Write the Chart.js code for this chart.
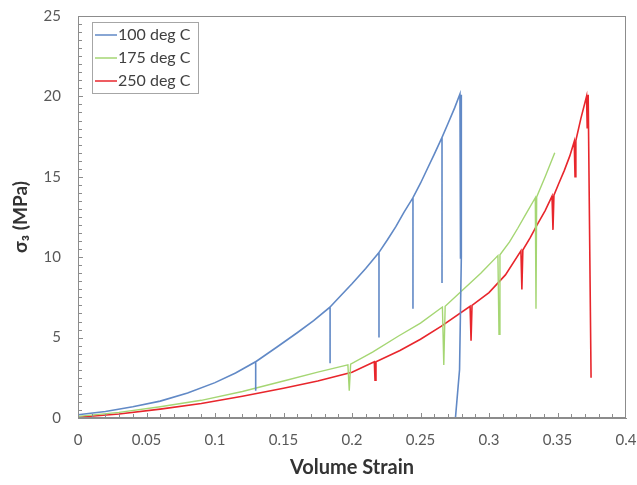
<!DOCTYPE html>
<html>
<head>
<meta charset="utf-8">
<script src="https://cdn.jsdelivr.net/npm/chart.js@4/dist/chart.umd.min.js"></script>
<style>
    body { margin: 0; background: #ffffff; }
    canvas { display: block; }
</style>
</head>
<body>
<canvas id="strainChart" width="637" height="485"></canvas>
<script>
// dados
const seriesLabels = ["100 deg C", "175 deg C", "250 deg C"];

const strain100 = [0, 0.02, 0.04, 0.06, 0.08, 0.1, 0.115, 0.1297, 0.1297, 0.1297,
    0.145, 0.16, 0.172, 0.184, 0.184, 0.184, 0.19, 0.2, 0.21, 0.2197, 0.2197, 0.2197,
    0.226, 0.232, 0.238, 0.2445, 0.2445, 0.2445, 0.25, 0.255, 0.26, 0.2657, 0.2657, 0.2657,
    0.27, 0.275, 0.2788, 0.2792, 0.2796, 0.2798, 0.2785, 0.2755];
const stress100 = [0.2, 0.4, 0.7, 1.05, 1.55, 2.2, 2.8, 3.5, 1.7, 3.5,
    4.4, 5.3, 6.05, 6.9, 3.4, 6.9, 7.45, 8.35, 9.3, 10.3, 5.0, 10.3,
    11.1, 11.9, 12.8, 13.7, 6.8, 13.7, 14.6, 15.5, 16.4, 17.45, 8.4, 17.45,
    18.3, 19.3, 20.15, 9.9, 20.1, 10.0, 3.0, 0];

const strain175 = [0, 0.03, 0.06, 0.09, 0.12, 0.15, 0.175, 0.197, 0.198, 0.199,
    0.215, 0.234, 0.25, 0.266, 0.267, 0.268, 0.28, 0.294, 0.3065, 0.3073, 0.308,
    0.315, 0.321, 0.327, 0.3338, 0.3343, 0.3348, 0.341, 0.348];
const stress175 = [0.1, 0.35, 0.7, 1.1, 1.65, 2.3, 2.85, 3.3, 1.7, 3.35,
    4.1, 5.1, 5.9, 6.9, 3.3, 6.95, 7.9, 9.0, 10.1, 5.2, 10.15,
    10.95, 11.8, 12.7, 13.7, 6.8, 13.75, 15.0, 16.5];

const strain250 = [0, 0.03, 0.06, 0.09, 0.12, 0.15, 0.175, 0.2, 0.2163, 0.2168, 0.2175,
    0.235, 0.25, 0.265, 0.2862, 0.2869, 0.2876, 0.3, 0.312, 0.3233, 0.324, 0.3247,
    0.33, 0.335, 0.341, 0.346, 0.3467, 0.3474, 0.351, 0.355, 0.359, 0.3622, 0.3628, 0.3634,
    0.367, 0.3712, 0.3717, 0.3724, 0.3745];
const stress250 = [0.05, 0.25, 0.55, 0.9, 1.35, 1.85, 2.3, 2.85, 3.5, 2.35, 3.5,
    4.2, 4.9, 5.7, 6.95, 4.8, 7.0, 7.8, 8.9, 10.4, 8.0, 10.45,
    11.2, 12.0, 12.9, 13.8, 11.7, 13.85, 14.6, 15.4, 16.3, 17.2, 15.0, 17.25,
    18.6, 20.0, 18.0, 20.1, 2.5];

const xTickValues = [0, 0.05, 0.1, 0.15, 0.2, 0.25, 0.3, 0.35, 0.4];
const yTickValues = [0, 5, 10, 15, 20, 25];

const seriesColors = ["#6189c6", "#a5d673", "#e8262c"];

function toPoints(xs, ys) {
    return xs.map((x, i) => ({ x: x, y: ys[i] }));
}

const fontFamily = "Lato, 'Noto Sans', 'DejaVu Sans', sans-serif";

// moldura, marcas internas e legenda
const framePlugin = {
    id: "frame",
    afterDraw(chart) {
        const ctx = chart.ctx;
        const area = chart.chartArea;
        const xs = chart.scales.x;
        const ys = chart.scales.y;
        ctx.save();
        ctx.strokeStyle = "#8c8c8c";
        ctx.lineWidth = 1;
        ctx.strokeRect(area.left + 0.5, area.top + 0.5, area.right - area.left - 1, area.bottom - area.top - 1);

        ctx.beginPath();
        for (let i = 1; i < 40; i++) {
            const px = Math.round(xs.getPixelForValue(i / 100)) + 0.5;
            ctx.moveTo(px, area.bottom);
            ctx.lineTo(px, area.bottom - (i % 5 === 0 ? 5 : 4));
        }
        for (let i = 1; i < 50; i++) {
            const py = Math.round(ys.getPixelForValue(i / 2)) + 0.5;
            ctx.moveTo(area.left, py);
            ctx.lineTo(area.left + (i % 10 === 0 ? 5 : 4), py);
        }
        ctx.stroke();

        // legenda
        const box = { x: 92, y: 22, w: 106, h: 71, row: 23 };
        ctx.fillStyle = "#ffffff";
        ctx.fillRect(box.x, box.y, box.w, box.h);
        ctx.strokeStyle = "#a6a6a6";
        ctx.strokeRect(box.x + 0.5, box.y + 0.5, box.w, box.h);
        ctx.font = "16px " + fontFamily;
        ctx.textBaseline = "middle";
        chart.data.datasets.forEach((ds, i) => {
            const cy = box.y + 13 + i * box.row;
            ctx.strokeStyle = ds.borderColor;
            ctx.lineWidth = 1.5;
            ctx.beginPath();
            ctx.moveTo(box.x + 3, cy);
            ctx.lineTo(box.x + 25, cy);
            ctx.stroke();
            ctx.fillStyle = "#404040";
            ctx.fillText(ds.label, box.x + 26, cy);
        });
        ctx.restore();
    }
};

const ctx = document.getElementById("strainChart").getContext("2d");
new Chart(ctx, {
    type: "line",
    data: {
        datasets: [
            { label: seriesLabels[0], data: toPoints(strain100, stress100), borderColor: seriesColors[0], borderWidth: 1.6 },
            { label: seriesLabels[1], data: toPoints(strain175, stress175), borderColor: seriesColors[1], borderWidth: 1.4 },
            { label: seriesLabels[2], data: toPoints(strain250, stress250), borderColor: seriesColors[2], borderWidth: 1.6 }
        ]
    },
    options: {
        responsive: false,
        animation: false,
        parsing: false,
        layout: { padding: { left: 0, right: 11, top: 16, bottom: 0 } },
        elements: {
            point: { radius: 0 },
            line: { tension: 0, fill: false }
        },
        plugins: {
            legend: { display: false },
            tooltip: { enabled: false }
        },
        scales: {
            x: {
                type: "linear",
                min: 0,
                max: 0.4,
                afterBuildTicks: (scale) => { scale.ticks = xTickValues.map(v => ({ value: v })); },
                afterFit: (scale) => {
                    scale.height = 67;
                    scale.paddingLeft = 0;
                    scale.paddingRight = 0;
                },
                grid: { display: false, drawTicks: false },
                border: { display: true, color: "#8c8c8c" },
                ticks: {
                    padding: 13,
                    color: "#595959",
                    font: { family: fontFamily, size: 15 },
                    maxRotation: 0,
                    callback: (v) => String(Number(v.toFixed(2)))
                },
                title: {
                    display: true,
                    text: "Volume Strain",
                    color: "#333333",
                    font: { family: fontFamily, size: 20, weight: "bold" },
                    padding: { top: 0, bottom: 5 }
                }
            },
            y: {
                type: "linear",
                min: 0,
                max: 25,
                afterBuildTicks: (scale) => { scale.ticks = yTickValues.map(v => ({ value: v })); },
                afterFit: (scale) => {
                    scale.width = 78;
                    scale.paddingTop = 0;
                    scale.paddingBottom = 0;
                },
                grid: { display: false, drawTicks: false },
                border: { display: true, color: "#8c8c8c" },
                ticks: {
                    padding: 17,
                    color: "#595959",
                    font: { family: fontFamily, size: 15 }
                },
                title: {
                    display: true,
                    text: "σ₃ (MPa)",
                    color: "#333333",
                    font: { family: fontFamily, size: 19, weight: "bold" },
                    padding: { top: 9, bottom: 0 }
                }
            }
        }
    },
    plugins: [framePlugin]
});
</script>
</body>
</html>
